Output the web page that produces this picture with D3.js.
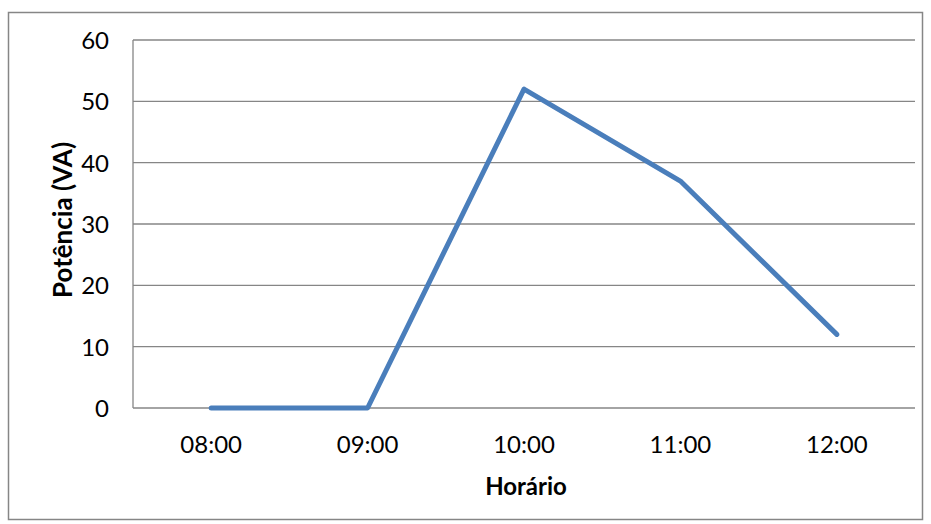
<!DOCTYPE html>
<html>
<head>
<meta charset="utf-8">
<script src="https://cdn.jsdelivr.net/npm/d3@7/dist/d3.min.js"></script>
<style>
  html, body { margin: 0; padding: 0; background: #fff; }
  svg { display: block; }
  text { font-family: Lato, "Open Sans", sans-serif; fill: #000; }
</style>
</head>
<body>
<svg id="chart" width="931" height="524"></svg>
<script>
// Power readings through the morning
const horarios = ["08:00", "09:00", "10:00", "11:00", "12:00"];
const potencia = [0, 0, 52, 37, 12];
const yTicks = [0, 10, 20, 30, 40, 50, 60];

const svg = d3.select("#chart");
const W = 931, H = 524;
const plot = { left: 133, right: 915, top: 40, bottom: 408 };

// Outer chart frame
svg.append("rect")
  .attr("x", 8.5).attr("y", 12.5)
  .attr("width", W - 17).attr("height", H - 17)
  .attr("fill", "#fff").attr("stroke", "#868686").attr("stroke-width", 1.5);

const x = d3.scaleBand().domain(horarios).range([plot.left, plot.right]);
const y = d3.scaleLinear().domain([0, 60]).range([plot.bottom, plot.top]);

// Horizontal gridlines
svg.append("g").selectAll("line").data(yTicks).join("line")
  .attr("x1", plot.left).attr("x2", plot.right)
  .attr("y1", d => y(d)).attr("y2", d => y(d))
  .attr("stroke", "#868686").attr("stroke-width", 1.3);

// Vertical axis line
svg.append("line")
  .attr("x1", plot.left).attr("x2", plot.left)
  .attr("y1", plot.top).attr("y2", plot.bottom)
  .attr("stroke", "#868686").attr("stroke-width", 1.3);

// Y axis labels
const yAxis = d3.axisLeft(y).tickValues(yTicks).tickSize(0).tickPadding(24);
svg.append("g").attr("transform", `translate(${plot.left},0)`).call(yAxis)
  .call(g => g.select(".domain").remove())
  .selectAll("text").style("font-size", "24px").attr("dy", "0.36em");

// X axis labels
const xAxis = d3.axisBottom(x).tickSize(0).tickPadding(30);
svg.append("g").attr("transform", `translate(0,${plot.bottom})`).call(xAxis)
  .call(g => g.select(".domain").remove())
  .selectAll("text").style("font-size", "24px").attr("dy", "0.62em");

// Data line
const line = d3.line()
  .x((d, i) => x(horarios[i]) + x.bandwidth() / 2)
  .y(d => y(d));
svg.append("path").datum(potencia)
  .attr("d", line)
  .attr("fill", "none")
  .attr("stroke", "#4a7ebb")
  .attr("stroke-width", 5)
  .attr("stroke-linejoin", "round")
  .attr("stroke-linecap", "round");

// Axis titles
svg.append("text")
  .attr("x", 526).attr("y", 495)
  .attr("text-anchor", "middle")
  .style("font-size", "24px").style("font-weight", "bold")
  .text("Horário");

svg.append("text")
  .attr("transform", `translate(72,220) rotate(-90)`)
  .attr("text-anchor", "middle")
  .style("font-size", "26px").style("font-weight", "bold")
  .text("Potência (VA)");
</script>
</body>
</html>
